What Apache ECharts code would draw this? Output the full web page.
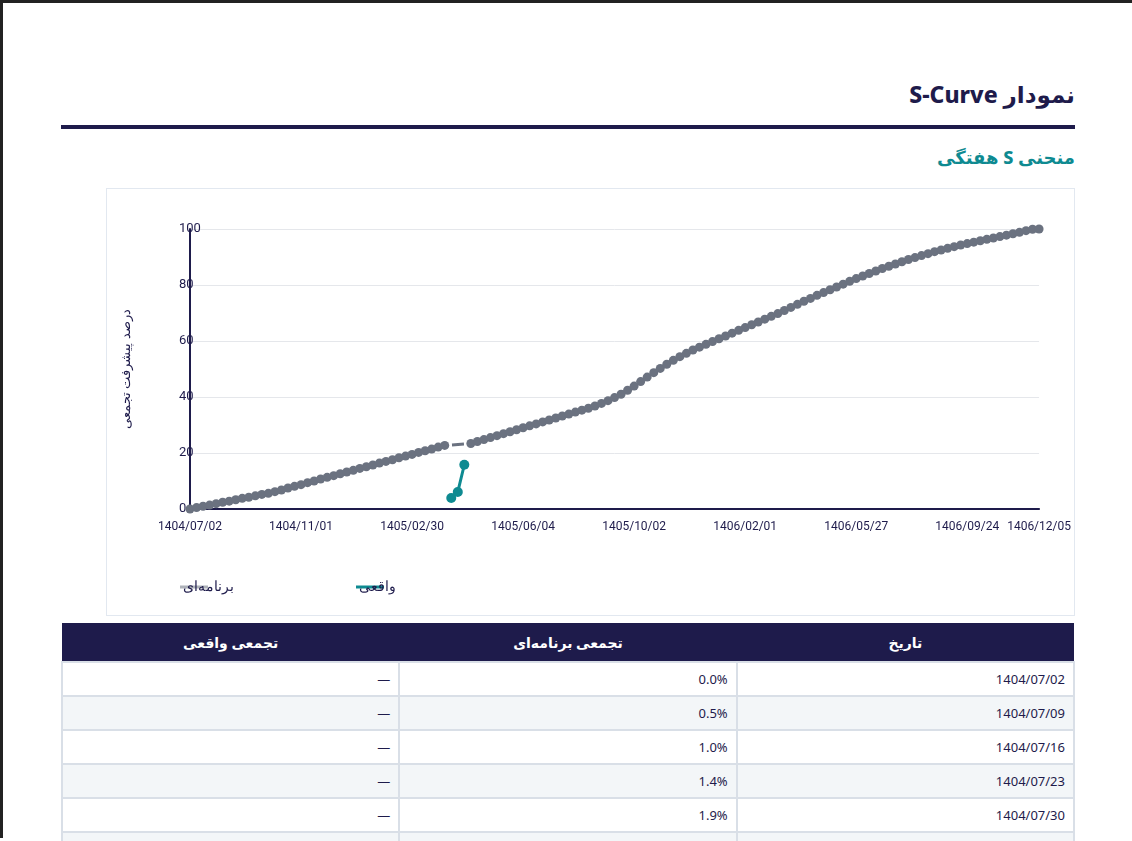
<!DOCTYPE html>
<html lang="fa" dir="rtl">
<head>
<meta charset="utf-8">
<script src="https://cdn.jsdelivr.net/npm/echarts@6/dist/echarts.min.js"></script>
<style>
  html, body { margin: 0; padding: 0; background: #fff; overflow: hidden; }
  body { border-top: 3px solid #222; border-left: 3px solid #222; height: 838px; box-sizing: border-box; font-family: "Noto Sans", "DejaVu Sans", sans-serif; }
  .wrap { position: absolute; left: 61px; top: 3px; width: 1014px; }
  h2 { margin: 0; position: absolute; top: 75px; right: 0; font-size: 23px; font-weight: 800; color: #1e1b4b; }
  .rule { position: absolute; top: 122px; left: 0; width: 1014px; height: 4px; background: #1e1b4b; }
  h3 { margin: 0; position: absolute; top: 142px; right: 0; font-size: 18px; font-weight: 800; color: #0e8a91; }
  .box { position: absolute; top: 185px; right: 0; width: 969px; height: 428px; border: 1px solid #e2e8f0; box-sizing: border-box; }
  #scurve { width: 100%; height: 100%; }
  table { position: absolute; top: 620px; left: 0; width: 1014px; border-collapse: collapse; font-size: 13px; color: #1e1b4b; }
  th { background: #1e1b4b; color: #fff; height: 38px; padding: 0; font-weight: 700; font-size: 14px; }
  td { height: 32px; padding: 0 8px; border: 2px solid #d9dfe7; text-align: right; width: 33.3%; }
  tr:nth-child(even) td { background: #f3f6f8; }
</style>
</head>
<body>
<div class="wrap">
  <h2>نمودار S-Curve</h2>
  <div class="rule"></div>
  <h3>منحنی S هفتگی</h3>
  <div class="box"><div id="scurve"></div></div>
  <table id="tbl"><thead><tr><th>تاریخ</th><th>تجمعی برنامه‌ای</th><th>تجمعی واقعی</th></tr></thead><tbody></tbody></table>
</div>
<script>
var plannedDates = [
  '1404/07/02', '1404/07/09', '1404/07/16', '1404/07/23', '1404/07/30',
  '1404/08/07', '1404/08/14', '1404/08/21', '1404/08/28',
  '1404/09/05', '1404/09/12', '1404/09/19', '1404/09/26',
  '1404/10/03', '1404/10/10', '1404/10/17', '1404/10/24',
  '1404/11/01', '1404/11/08', '1404/11/15', '1404/11/22', '1404/11/29',
  '1404/12/06', '1404/12/13', '1404/12/20', '1404/12/27',
  '1405/01/05', '1405/01/12', '1405/01/19', '1405/01/26',
  '1405/02/02', '1405/02/09', '1405/02/16', '1405/02/23', '1405/02/30',
  '1405/03/06', '1405/03/13', '1405/03/20', '1405/03/27',
  '1405/04/03', '1405/04/10', '1405/04/17', '1405/04/24', '1405/04/31',
  '1405/05/07', '1405/05/14', '1405/05/21', '1405/05/28',
  '1405/06/04', '1405/06/11', '1405/06/18', '1405/06/25',
  '1405/07/01', '1405/07/08', '1405/07/15', '1405/07/22', '1405/07/29',
  '1405/08/06', '1405/08/13', '1405/08/20', '1405/08/27',
  '1405/09/04', '1405/09/11', '1405/09/18', '1405/09/25',
  '1405/10/02', '1405/10/09', '1405/10/16', '1405/10/23', '1405/10/30',
  '1405/11/07', '1405/11/14', '1405/11/21', '1405/11/28',
  '1405/12/05', '1405/12/12', '1405/12/19', '1405/12/26',
  '1406/01/04', '1406/01/11', '1406/01/18', '1406/01/25',
  '1406/02/01', '1406/02/08', '1406/02/15', '1406/02/22', '1406/02/29',
  '1406/03/05', '1406/03/12', '1406/03/19', '1406/03/26',
  '1406/04/02', '1406/04/09', '1406/04/16', '1406/04/23', '1406/04/30',
  '1406/05/06', '1406/05/13', '1406/05/20', '1406/05/27',
  '1406/06/03', '1406/06/10', '1406/06/17', '1406/06/24', '1406/06/31',
  '1406/07/07', '1406/07/14', '1406/07/21', '1406/07/28',
  '1406/08/05', '1406/08/12', '1406/08/19', '1406/08/26',
  '1406/09/03', '1406/09/10', '1406/09/17', '1406/09/24',
  '1406/10/01', '1406/10/08', '1406/10/15', '1406/10/22', '1406/10/29',
  '1406/11/06', '1406/11/13', '1406/11/20', '1406/11/27',
  '1406/12/04', '1406/12/05'
]
var plannedValues = [
  0.0, 0.5, 1.0, 1.4, 1.9, 2.4, 2.8, 3.3, 3.8, 4.2, 4.7, 5.2, 5.6,
  6.2, 6.8, 7.5, 8.1, 8.7, 9.4, 10.0, 10.7, 11.3, 11.9, 12.6, 13.2, 13.8,
  14.5, 15.1, 15.7, 16.4, 17.0, 17.6, 18.3, 18.9, 19.5, 20.2, 20.8, 21.4, 22.1, 22.7,
  23.4, 24.1, 24.8, 25.5, 26.2, 26.9, 27.6, 28.3, 29.0, 29.7, 30.4, 31.1,
  31.8, 32.5, 33.2, 33.9, 34.6, 35.3, 36.0, 36.8, 37.7, 38.7,
  39.8, 41.0, 42.4, 43.9, 45.5, 47.1, 48.7, 50.2, 51.7, 53.1, 54.4, 55.6, 56.8, 57.8, 58.8, 59.8,
  60.8, 61.8, 62.8, 63.8, 64.8, 65.8, 66.8, 67.8, 68.8, 69.8,
  70.9, 72.0, 73.1, 74.2, 75.2, 76.3, 77.3, 78.3, 79.3, 80.3,
  81.3, 82.3, 83.2, 84.1, 85.0, 85.9, 86.7, 87.5, 88.3, 89.1,
  89.8, 90.5, 91.2, 91.9, 92.5, 93.1, 93.7, 94.3, 94.8, 95.3,
  95.8, 96.3, 96.8, 97.3, 97.8, 98.3, 98.8, 99.4, 99.9, 100.0
]
var actualDates = ['1405/04/05', '1405/04/06', '1405/04/08']
var actualValues = [3.9, 6.1, 15.8]
var yTicks = [0, 20, 40, 60, 80, 100]

// همه تاریخ‌ها روی یک محور
var categories = plannedDates.concat(actualDates).sort()

var navy = '#1e1b4b'
var teal = '#0e8a91'
var gray = '#6b7280'

var chart = echarts.init(document.getElementById('scurve'))
chart.setOption({
  animation: false,
  grid: { left: 83, right: 34, top: 40, bottom: 106 },
  legend: {
    bottom: 16,
    left: 68,
    itemGap: 122,
    itemWidth: 28,
    itemHeight: 3,
    textStyle: { color: navy, fontSize: 14, padding: [0, 0, 0, -30] },
    data: [
      { name: 'برنامه‌ای', icon: 'rect', itemStyle: { color: 'rgba(107,114,128,0.55)' } },
      { name: 'واقعی', icon: 'rect' }
    ]
  },
  xAxis: {
    type: 'category',
    data: categories,
    boundaryGap: false,
    axisLine: { lineStyle: { color: navy, width: 2 } },
    axisTick: { show: false },
    axisLabel: { color: navy, fontSize: 12, fontFamily: 'Roboto', interval: 16, showMaxLabel: true, margin: 12 }
  },
  yAxis: {
    type: 'value',
    min: yTicks[0],
    max: yTicks[yTicks.length - 1],
    interval: 20,
    name: 'درصد پیشرفت تجمعی',
    nameLocation: 'middle',
    nameGap: 57,
    nameTextStyle: { color: navy, fontSize: 13 },
    axisLine: { show: true, lineStyle: { color: navy, width: 2 } },
    axisLabel: { color: navy, fontSize: 13, fontFamily: 'Roboto', align: 'left', margin: 11 },
    splitLine: { lineStyle: { color: '#e5e7eb' } }
  },
  series: [
    {
      name: 'برنامه‌ای',
      type: 'line',
      data: plannedDates.map(function (d, i) { return [d, plannedValues[i]] }),
      symbol: 'circle',
      symbolSize: 9,
      showAllSymbol: true,
      itemStyle: { color: gray },
      lineStyle: { color: gray, width: 3, type: 'dashed' }
    },
    {
      name: 'واقعی',
      type: 'line',
      data: actualDates.map(function (d, i) { return [d, actualValues[i]] }),
      symbol: 'circle',
      symbolSize: 10,
      showAllSymbol: true,
      itemStyle: { color: teal },
      lineStyle: { color: teal, width: 3 }
    }
  ]
})

// جدول
var tbody = document.querySelector('#tbl tbody')
for (var i = 0; i < 6; i++) {
  var tr = document.createElement('tr')
  tr.innerHTML = '<td>' + plannedDates[i] + '</td><td>' + plannedValues[i].toFixed(1) + '%</td><td>—</td>'
  tbody.appendChild(tr)
}
</script>
</body>
</html>
